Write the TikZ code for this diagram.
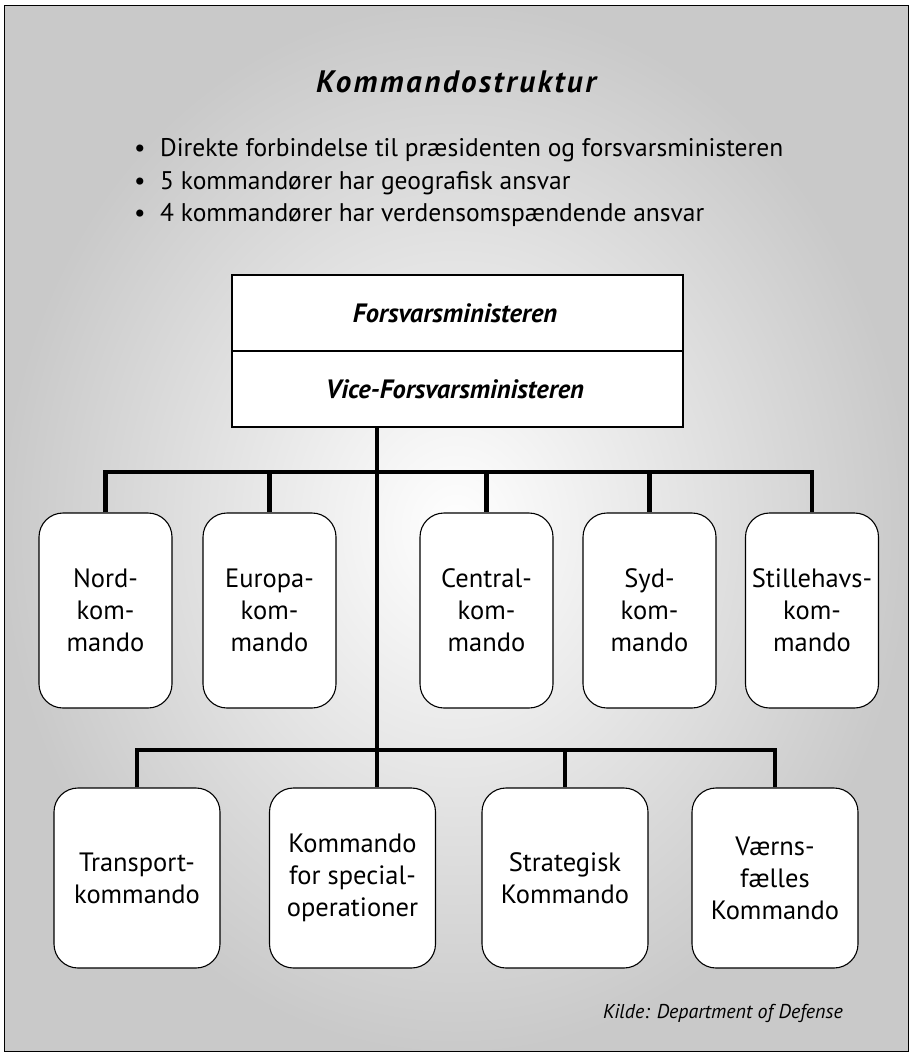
\documentclass[tikz,border=0pt]{standalone}
\usepackage{fontspec}
\setmainfont{PT Sans}
\newfontfamily\titlefont[LetterSpace=8]{PT Sans}
\begin{document}
\begin{tikzpicture}[x=1pt,y=-1pt,
  cmd/.style={draw=black, line width=1.1pt, fill=white, rounded corners=24pt,
    align=center, inner sep=0pt, font=\fontsize{26.5}{32}\selectfont},
  cmdtop/.style={cmd, minimum width=133pt, minimum height=195pt},
  cmdbot/.style={cmd, minimum width=166pt, minimum height=180pt},
  conn/.style={line width=4.6pt, line join=miter, draw=black},
  bullet/.style={anchor=base west, inner sep=0pt, font=\fontsize{25.5}{30}\selectfont},
  head/.style={inner sep=0pt, font=\fontsize{26.5}{30}\selectfont\bfseries\itshape}]
\useasboundingbox (0,0) rectangle (910,1054);
\shade[inner color=white, outer color=black!21] (4,6) rectangle (908,1051);
\draw[line width=1pt] (4,6) rectangle (908,1051);

\node[anchor=base, inner sep=0pt, font=\titlefont\fontsize{31}{36}\selectfont\bfseries\itshape] (title) at (456,93) {Kommandostruktur};

\node[bullet] (b1) at (134,157) {\makebox[26pt][l]{•}Direkte forbindelse til præsidenten og forsvarsministeren};
\node[bullet] (b2) at (134,189) {\makebox[26pt][l]{•}5 kommandører har geografisk ansvar};
\node[bullet] (b3) at (134,221) {\makebox[26pt][l]{•}4 kommandører har verdensomspændende ansvar};

\node[draw=black, line width=1.1pt, fill=white, minimum width=451pt, minimum height=152pt, inner sep=0pt] (top) at (457.5,351) {};
\draw[line width=1.1pt] (top.west) -- (top.east);
\node[head] (fm) at (455,313) {Forsvarsministeren};
\node[head] (vfm) at (455,389) {Vice-Forsvarsministeren};

\node[cmdtop] (nord) at (105.5,610.5) {Nord-\\kom-\\mando};
\node[cmdtop] (euro) at (269.5,610.5) {Europa-\\kom-\\mando};
\node[cmdtop] (cent) at (486.5,610.5) {Central-\\kom-\\mando};
\node[cmdtop] (syd) at (649.5,610.5) {Syd-\\kom-\\mando};
\node[cmdtop] (still) at (812,610.5) {Stillehavs-\\kom-\\mando};

\node[cmdbot] (trans) at (137,878) {Transport-\\kommando};
\node[cmdbot] (spec) at (352.5,878) {Kommando\\for special-\\operationer};
\node[cmdbot] (strat) at (565,878) {Strategisk\\Kommando};
\node[cmdbot] (vaern) at (775,878) {Værns-\\fælles\\Kommando};

\node[anchor=base east, inner sep=0pt, font=\fontsize{20}{24}\selectfont\itshape] (kilde) at (843,1018) {Kilde: Department of Defense};

\coordinate (j1) at (377,472);
\coordinate (j2) at (377,750);

\draw[conn] (top.south -| j1) -- (j1) -- (j2) -- (spec.north -| j2);
\draw[conn] (nord.north) -- (nord.north |- j1) -- (still.north |- j1) -- (still.north);
\draw[conn] (euro.north |- j1) -- (euro.north);
\draw[conn] (cent.north |- j1) -- (cent.north);
\draw[conn] (syd.north |- j1) -- (syd.north);
\draw[conn] (trans.north) -- (trans.north |- j2) -- (vaern.north |- j2) -- (vaern.north);
\draw[conn] (strat.north |- j2) -- (strat.north);
\end{tikzpicture}
\end{document}
